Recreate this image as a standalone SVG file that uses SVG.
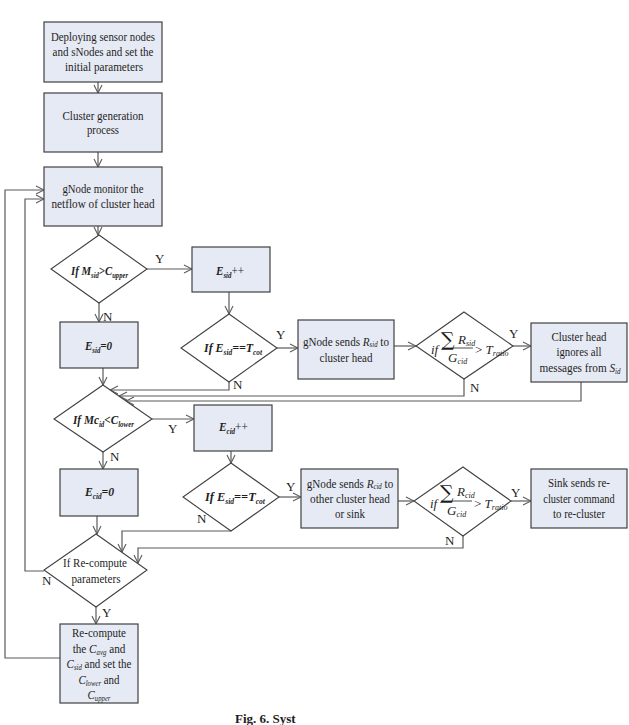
<svg xmlns="http://www.w3.org/2000/svg" width="629" height="725" viewBox="0 0 629 725">
<style>
.box{fill:#e6eaf4;stroke:#404040;stroke-width:1.2}
.dia{fill:#fff;stroke:#404040;stroke-width:1.1}
.ln{fill:none;stroke:#5a5a5a;stroke-width:1.2;marker-end:url(#a)}
text{font-family:"Liberation Serif","Times New Roman","DejaVu Serif",serif;font-size:13px;fill:#1e1e1e}
.c{text-anchor:middle}
.bi{font-weight:bold;font-style:italic}
.it{font-style:italic}
.s{font-size:8px}
.sum{font-family:"DejaVu Serif",serif;font-size:19px}
</style>
<defs>
<marker id="a" markerWidth="10" markerHeight="10" refX="9" refY="5" orient="auto" markerUnits="userSpaceOnUse">
<path d="M1,1 L9,5 L1,9" fill="none" stroke="#5a5a5a" stroke-width="1.1"/>
</marker>
</defs>

<g id="connectors">
<path class="ln" d="M98,82 V93"/>
<path class="ln" d="M98,152 V167"/>
<path class="ln" d="M98,226 V235"/>
<path class="ln" d="M147,269 H192"/>
<path class="ln" d="M99,303 V322"/>
<path class="ln" d="M229,292 V314"/>
<path class="ln" d="M277,348 H298"/>
<path class="ln" d="M394,346 H416"/>
<path class="ln" d="M513,346 H531"/>
<path class="ln" d="M103,368 V385"/>
<path class="ln" d="M229,382 V390 H110"/>
<path class="ln" d="M464,379 V396 H119"/>
<path class="ln" d="M581,382 V401 H126"/>
<path class="ln" d="M152,419 H194"/>
<path class="ln" d="M103,452 V469"/>
<path class="ln" d="M231,451 V463"/>
<path class="ln" d="M279,497 H301"/>
<path class="ln" d="M398,501 H414"/>
<path class="ln" d="M511,501 H531"/>
<path class="ln" d="M97,516 V534"/>
<path class="ln" d="M231,531 H122 V552"/>
<path class="ln" d="M463,536 V548 H138 V563"/>
<path class="ln" d="M96,607 V624"/>
<path class="ln" d="M60,658 H5 V190 H44"/>
<path class="ln" d="M44,571 H25 V199 H44"/>
<text x="155" y="263">Y</text>
<text x="103" y="321">N</text>
<text x="276" y="339">Y</text>
<text x="233" y="389">N</text>
<text x="509" y="338">Y</text>
<text x="470" y="392">N</text>
<text x="168" y="433">Y</text>
<text x="110" y="461">N</text>
<text x="286" y="491">Y</text>
<text x="197" y="523">N</text>
<text x="511" y="497">Y</text>
<text x="445" y="545">N</text>
<text x="42" y="585">N</text>
<text x="102" y="617">Y</text>
</g>

<g id="deploy">
<rect class="box" x="44" y="22" width="118" height="60"/>
<text class="c" x="103" y="41" textLength="104" lengthAdjust="spacingAndGlyphs">Deploying sensor nodes</text>
<text class="c" x="103" y="56" textLength="101" lengthAdjust="spacingAndGlyphs">and sNodes and set the</text>
<text class="c" x="104" y="71" textLength="78" lengthAdjust="spacingAndGlyphs">initial parameters</text>
</g>

<g id="cluster-gen">
<rect class="box" x="44" y="93" width="118" height="59"/>
<text class="c" x="103" y="120" textLength="81" lengthAdjust="spacingAndGlyphs">Cluster generation</text>
<text class="c" x="103" y="134" textLength="32" lengthAdjust="spacingAndGlyphs">process</text>
</g>

<g id="monitor">
<rect class="box" x="44" y="167" width="118" height="59"/>
<text class="c" x="103" y="193" textLength="81" lengthAdjust="spacingAndGlyphs">gNode monitor the</text>
<text class="c" x="103" y="208" textLength="103" lengthAdjust="spacingAndGlyphs">netflow of cluster head</text>
</g>

<g id="d-upper">
<polygon class="dia" points="99,235 147,269 99,303 51,269"/>
<text class="bi" transform="translate(71,275) scale(0.83,1)">If M<tspan class="s" dy="3">sid</tspan><tspan dy="-3">&gt;C</tspan><tspan class="s" dy="3">upper</tspan></text>
</g>

<g id="esid-zero">
<rect class="box" x="60" y="322" width="78" height="46"/>
<text class="bi" transform="translate(85,350) scale(0.85,1)">E<tspan class="s" dy="3">sid</tspan><tspan dy="-3">=0</tspan></text>
</g>

<g id="esid-inc">
<rect class="box" x="192" y="247" width="78" height="45"/>
<text class="bi" transform="translate(216,275) scale(0.86,1)">E<tspan class="s" dy="3">sid</tspan><tspan dy="-3" font-weight="normal" font-style="normal">++</tspan></text>
</g>

<g id="d-esid-tcot-1">
<polygon class="dia" points="229,314 277,348 229,382 181,348"/>
<text class="bi" transform="translate(204,352) scale(0.92,1)">If E<tspan class="s" dy="3">sid</tspan><tspan dy="-3">==T</tspan><tspan class="s" dy="3">cot</tspan></text>
</g>

<g id="send-rsid">
<rect class="box" x="298" y="320" width="96" height="59"/>
<text class="c" transform="translate(346,346) scale(0.855,1)">gNode sends <tspan class="it">R</tspan><tspan class="s it" dy="1">sid</tspan><tspan dy="-1"> to</tspan></text>
<text class="c" x="346" y="362" textLength="53" lengthAdjust="spacingAndGlyphs">cluster head</text>
</g>

<g id="d-ratio-1">
<polygon class="dia" points="464,312 513,346 464,379 416,346"/>
<text class="it" x="431" y="354">if</text>
<text class="sum" x="441" y="346">∑</text>
<text class="it" x="458" y="344">R<tspan class="s" dy="2">sid</tspan></text>
<line x1="442" y1="348" x2="473" y2="348" stroke="#1e1e1e" stroke-width="0.8"/>
<text class="it" x="448" y="362">G<tspan class="s" dy="2">cid</tspan></text>
<text x="475" y="354">&gt; <tspan class="it">T</tspan><tspan class="s it" dy="2" font-size="7">ratio</tspan></text>
</g>

<g id="ignore">
<rect class="box" x="531" y="323" width="96" height="59"/>
<text class="c" x="579" y="341" textLength="55" lengthAdjust="spacingAndGlyphs">Cluster head</text>
<text class="c" x="579" y="356" textLength="45" lengthAdjust="spacingAndGlyphs">ignores all</text>
<text class="c" transform="translate(580,372) scale(0.865,1)">messages from <tspan class="it">S</tspan><tspan class="s it" dy="2">id</tspan></text>
</g>

<g id="d-lower">
<polygon class="dia" points="103,385 152,419 103,452 54,419"/>
<text class="bi" transform="translate(73,424) scale(0.865,1)">If Mc<tspan class="s" dy="3">id</tspan><tspan dy="-3">&lt;C</tspan><tspan class="s" dy="3">lower</tspan></text>
</g>

<g id="ecid-inc">
<rect class="box" x="194" y="405" width="78" height="46"/>
<text class="bi" transform="translate(219,431) scale(0.87,1)">E<tspan class="s" dy="3">cid</tspan><tspan dy="-3" font-weight="normal" font-style="normal">++</tspan></text>
</g>

<g id="ecid-zero">
<rect class="box" x="60" y="469" width="78" height="47"/>
<text class="bi" transform="translate(85,496) scale(0.9,1)">E<tspan class="s" dy="3">cid</tspan><tspan dy="-3">=0</tspan></text>
</g>

<g id="d-esid-tcot-2">
<polygon class="dia" points="231,463 279,497 231,531 183,497"/>
<text class="bi" transform="translate(205,501) scale(0.95,1)">If E<tspan class="s" dy="3">sid</tspan><tspan dy="-3">==T</tspan><tspan class="s" dy="3">cot</tspan></text>
</g>

<g id="send-rcid">
<rect class="box" x="301" y="469" width="97" height="59"/>
<text class="c" transform="translate(350,488) scale(0.855,1)">gNode sends <tspan class="it">R</tspan><tspan class="s it" dy="1">cid</tspan><tspan dy="-1"> to</tspan></text>
<text class="c" x="350" y="503" textLength="80" lengthAdjust="spacingAndGlyphs">other cluster head</text>
<text class="c" x="350" y="518" textLength="30" lengthAdjust="spacingAndGlyphs">or sink</text>
</g>

<g id="d-ratio-2">
<polygon class="dia" points="463,467 511,501 463,536 414,501"/>
<text class="it" x="430" y="508">if</text>
<text class="sum" x="440" y="499">∑</text>
<text class="it" x="457" y="496">R<tspan class="s" dy="2">cid</tspan></text>
<line x1="441" y1="501" x2="472" y2="501" stroke="#1e1e1e" stroke-width="0.8"/>
<text class="it" x="447" y="515">G<tspan class="s" dy="2">cid</tspan></text>
<text x="474" y="508">&gt; <tspan class="it">T</tspan><tspan class="s it" dy="2" font-size="7">ratio</tspan></text>
</g>

<g id="sink">
<rect class="box" x="531" y="469" width="96" height="59"/>
<text class="c" x="579" y="487" textLength="62" lengthAdjust="spacingAndGlyphs">Sink sends re-</text>
<text class="c" transform="translate(579,503) scale(0.8,1)">cluster command</text>
<text class="c" x="579" y="518" textLength="52" lengthAdjust="spacingAndGlyphs">to re-cluster</text>
</g>

<g id="d-recompute">
<polygon class="dia" points="96,534 147,570 96,607 44,570"/>
<text class="c" x="95" y="567" textLength="64" lengthAdjust="spacingAndGlyphs">If Re-compute</text>
<text class="c" x="96" y="583" textLength="49" lengthAdjust="spacingAndGlyphs">parameters</text>
</g>

<g id="recompute">
<rect class="box" x="60" y="624" width="78" height="79"/>
<text class="c" x="99" y="637" textLength="54" lengthAdjust="spacingAndGlyphs">Re-compute</text>
<text class="c" transform="translate(99,653) scale(0.86,1)">the <tspan class="it">C</tspan><tspan class="s it" dy="2">avg</tspan><tspan dy="-2"> and</tspan></text>
<text class="c" transform="translate(99,668) scale(0.845,1)"><tspan class="it">C</tspan><tspan class="s it" dy="2">sid</tspan><tspan dy="-2"> and set the</tspan></text>
<text class="c" transform="translate(99,684) scale(0.84,1)"><tspan class="it">C</tspan><tspan class="s it" dy="2">lower</tspan><tspan dy="-2"> and</tspan></text>
<text class="c" transform="translate(99,699) scale(0.84,1)"><tspan class="it">C</tspan><tspan class="s it" dy="2">upper</tspan></text>
</g>

<text x="235" y="723" font-weight="bold" font-size="11">Fig. 6. Syst</text>
</svg>
